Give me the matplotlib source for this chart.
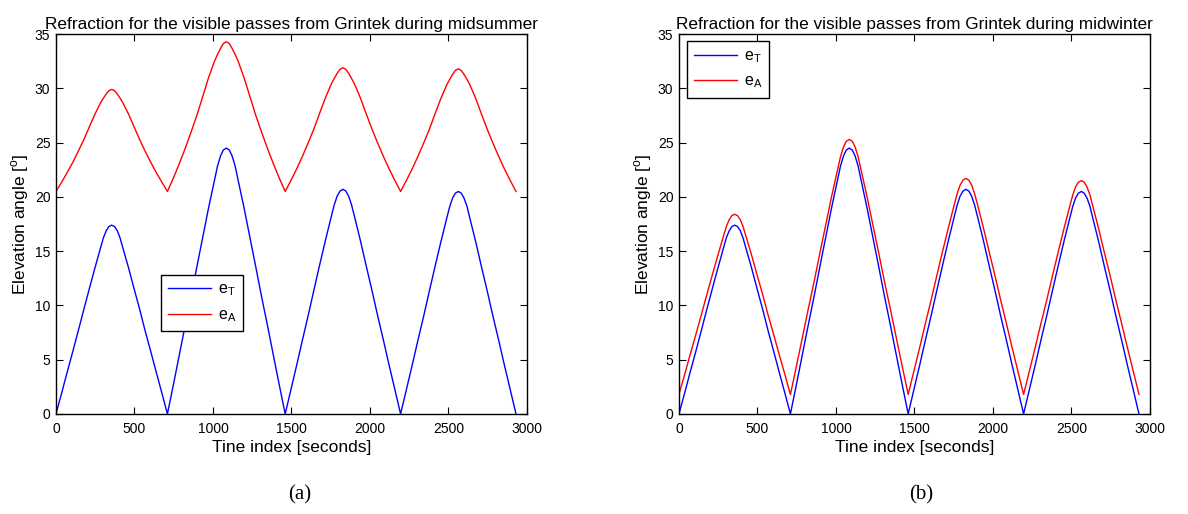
import matplotlib
matplotlib.use("Agg")
import matplotlib.pyplot as plt

plt.rcParams["font.family"] = ["Liberation Sans", "DejaVu Sans"]
plt.rcParams["mathtext.fontset"] = "custom"
plt.rcParams["mathtext.rm"] = "Liberation Sans"

# time samples (s), four visible passes back to back
time_s = [
    0, 36, 71, 107, 142, 178, 213, 249, 284, 302, 320, 337, 355,
    373, 391, 408, 426, 462, 497, 533, 568, 604, 639, 675, 710,
    748, 785, 822, 860, 898, 935, 972, 1010, 1029, 1048, 1066, 1085,
    1104, 1122, 1141, 1160, 1198, 1235, 1272, 1310, 1348, 1385, 1422, 1460,
    1497, 1534, 1570, 1607, 1644, 1680, 1717, 1754, 1773, 1791, 1809, 1828,
    1846, 1864, 1882, 1901, 1938, 1974, 2011, 2048, 2085, 2121, 2158, 2195,
    2232, 2269, 2305, 2342, 2379, 2415, 2452, 2489, 2508, 2526, 2544, 2563,
    2581, 2599, 2618, 2636, 2673, 2709, 2746, 2783, 2820, 2856, 2893, 2930,
]

# true elevation (same for both seasons)
e_true = [
    0, 1.91, 3.83, 5.74, 7.66, 9.66, 11.57, 13.49, 15.31, 16.23, 16.88, 17.27, 17.4,
    17.27, 16.88, 16.23, 15.31, 13.49, 11.57, 9.66, 7.66, 5.74, 3.83, 1.91, 0,
    2.70, 5.39, 8.09, 10.78, 13.60, 16.29, 18.99, 21.56, 22.85, 23.77, 24.32, 24.5,
    24.32, 23.77, 22.85, 21.56, 18.99, 16.29, 13.60, 10.78, 8.09, 5.39, 2.70, 0,
    2.28, 4.55, 6.83, 9.11, 11.49, 13.77, 16.04, 18.22, 19.30, 20.08, 20.54, 20.7,
    20.54, 20.08, 19.30, 18.22, 16.04, 13.77, 11.49, 9.11, 6.83, 4.55, 2.28, 0,
    2.26, 4.51, 6.77, 9.02, 11.38, 13.63, 15.89, 18.04, 19.12, 19.89, 20.35, 20.5,
    20.35, 19.89, 19.12, 18.04, 15.89, 13.63, 11.38, 9.02, 6.77, 4.51, 2.26, 0,
]

# apparent elevation, midsummer
e_app_summer = [
    20.5, 21.35, 22.24, 23.18, 24.21, 25.29, 26.47, 27.64, 28.68, 29.10, 29.48, 29.79, 29.9,
    29.79, 29.48, 29.10, 28.68, 27.64, 26.47, 25.29, 24.21, 23.18, 22.24, 21.35, 20.5,
    21.74, 23.05, 24.43, 25.95, 27.54, 29.26, 30.99, 32.51, 33.13, 33.68, 34.13, 34.3,
    34.13, 33.68, 33.13, 32.51, 30.99, 29.26, 27.54, 25.95, 24.43, 23.05, 21.74, 20.5,
    21.53, 22.61, 23.75, 25.00, 26.31, 27.74, 29.16, 30.42, 30.93, 31.39, 31.76, 31.9,
    31.76, 31.39, 30.93, 30.42, 29.16, 27.74, 26.31, 25.00, 23.75, 22.61, 21.53, 20.5,
    21.52, 22.59, 23.72, 24.96, 26.26, 27.68, 29.09, 30.33, 30.84, 31.29, 31.66, 31.8,
    31.66, 31.29, 30.84, 30.33, 29.09, 27.68, 26.26, 24.96, 23.72, 22.59, 21.52, 20.5,
]

# apparent elevation, midwinter
e_app_winter = [
    1.8, 3.62, 5.45, 7.28, 9.11, 11.02, 12.84, 14.67, 16.41, 17.28, 17.90, 18.28, 18.4,
    18.28, 17.90, 17.28, 16.41, 14.67, 12.84, 11.02, 9.11, 7.28, 5.45, 3.62, 1.8,
    4.39, 6.97, 9.56, 12.14, 14.85, 17.43, 20.02, 22.48, 23.71, 24.60, 25.13, 25.3,
    25.13, 24.60, 23.71, 22.48, 20.02, 17.43, 14.85, 12.14, 9.56, 6.97, 4.39, 1.8,
    3.99, 6.17, 8.37, 10.56, 12.85, 15.04, 17.22, 19.32, 20.35, 21.10, 21.55, 21.7,
    21.55, 21.10, 20.35, 19.32, 17.22, 15.04, 12.85, 10.56, 8.37, 6.17, 3.99, 1.8,
    3.97, 6.13, 8.31, 10.47, 12.74, 14.90, 17.07, 19.14, 20.17, 20.91, 21.36, 21.5,
    21.36, 20.91, 20.17, 19.14, 17.07, 14.90, 12.74, 10.47, 8.31, 6.13, 3.97, 1.8,
]

titles = [
    "Refraction for the visible passes from Grintek during midsummer",
    "Refraction for the visible passes from Grintek during midwinter",
]
captions = ["(a)", "(b)"]


def style_axes(ax, title):
    ax.set_xlim(0, 3000)
    ax.set_ylim(0, 35)
    ax.set_xticks(range(0, 3001, 500))
    ax.set_yticks(range(0, 36, 5))
    ax.tick_params(direction="in", top=True, right=True, length=5,
                   labelsize=10, width=0.8)
    ax.tick_params(axis="x", pad=6)
    ax.tick_params(axis="y", pad=4)
    for sp in ax.spines.values():
        sp.set_linewidth(1.0)
    ax.set_title(title, fontsize=12.4, pad=4)
    ax.set_xlabel("Tine index [seconds]", fontsize=12.5, labelpad=3)
    ax.set_ylabel(r"Elevation angle [$^\mathregular{o}$]", fontsize=12.5, labelpad=3)


fig = plt.figure(figsize=(11.88, 5.14), dpi=100)
ax1 = fig.add_axes([0.0471, 0.1946, 0.3965, 0.739])
ax2 = fig.add_axes([0.5715, 0.1946, 0.3965, 0.739])

for ax, e_app, title in [(ax1, e_app_summer, titles[0]), (ax2, e_app_winter, titles[1])]:
    ax.plot(time_s, e_true, color="#0000ff", lw=1.0, label=r"e$_\mathregular{T}$")
    ax.plot(time_s, e_app, color="#ff0000", lw=1.0, label=r"e$_\mathregular{A}$")
    style_axes(ax, title)

leg_kw = dict(fontsize=11.5, handlelength=2.7, fancybox=False, edgecolor="black",
              framealpha=1, borderpad=0.45, labelspacing=0.55, handletextpad=0.4,
              borderaxespad=0)
l1 = ax1.legend(loc="lower left", bbox_to_anchor=(0.223, 0.218), **leg_kw)
l2 = ax2.legend(loc="upper left", bbox_to_anchor=(0.017, 0.982), **leg_kw)
for leg in (l1, l2):
    leg.get_frame().set_linewidth(1.0)

fig.text(0.2525, 0.038, captions[0], family="Liberation Serif", fontsize=15, ha="center", va="center")
fig.text(0.775, 0.038, captions[1], family="Liberation Serif", fontsize=15, ha="center", va="center")

fig.savefig("out.png", dpi=100)
